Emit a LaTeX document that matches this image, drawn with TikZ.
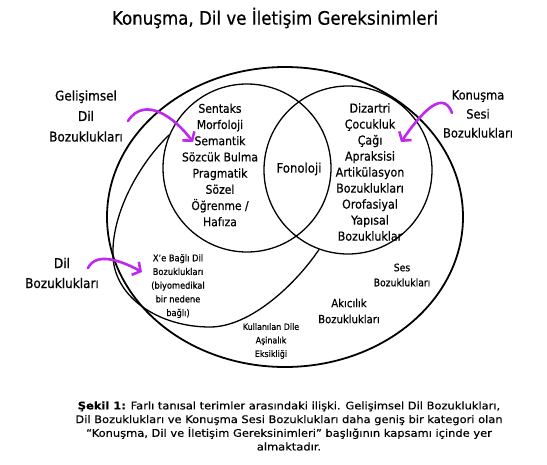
\documentclass[tikz,border=0pt]{standalone}
\usepackage{fontspec}
\setmainfont{DejaVu Sans}[FakeStretch=0.9, FakeBold=0.6]
\newfontfamily\genis{DejaVu Sans}[FakeStretch=1.09, FakeBold=0.4]
\usetikzlibrary{scopes,arrows.meta}
\definecolor{vurgu}{RGB}{190,40,240}
\tikzset{
  daire/.style={circle, draw, line width=1.3pt, minimum size=168pt, inner sep=0pt},
  metin/.style={align=center, font=\fontsize{12}{16.2}\selectfont},
  kucuk/.style={align=center, font=\fontsize{9.2}{13.7}\selectfont},
  yan/.style={align=center, font=\fontsize{13.4}{20.5}\selectfont},
  ok/.style={vurgu, line width=2.6pt, line cap=round, -{Straight Barb[length=6pt,width=15pt]}}
}

\begin{document}
\begin{tikzpicture}[x=1pt,y=-1pt]
  \useasboundingbox (0,0) rectangle (547,464);
  \node[font=\fontsize{18.5}{22}\selectfont] (baslik) at (275,18) {Konuşma, Dil ve İletişim Gereksinimleri};

  \draw[line width=1.8pt] (285,217) ellipse [x radius=178pt, y radius=150pt];
  { [every node/.append style={daire}]
    \node (sol) at (247,168) {};
    \node (sag) at (348,170) {};
  }
  \draw[line width=1.3pt] (sol.157) .. controls (138,165) and (111,215) .. (113,257)
    .. controls (115,297) and (158,327) .. (210,327)
    .. controls (250,327) and (295,285) .. (sag.250);

  \node[metin] (gelisim) at (220,165) {Sentaks\\Morfoloji\\Semantik\\Sözcük Bulma\\Pragmatik\\Sözel\\Öğrenme /\\Hafıza};
  \node[metin, font=\fontsize{13}{16}\selectfont] (fonoloji) at (299,169) {Fonoloji};
  \node[metin, font=\fontsize{12.3}{16}\selectfont] (konusma) at (370,172) {Dizartri\\Çocukluk\\Çağı\\Apraksisi\\Artikülasyon\\Bozuklukları\\Orofasiyal\\Yapısal\\Bozukluklar};
  \node[kucuk] (xbagli) at (178,286) {X’e Bağlı Dil\\Bozuklukları\\(biyomedikal\\bir nedene\\bağlı)};
  \node[kucuk, font=\fontsize{10.3}{15}\selectfont] (ses) at (402,275) {Ses\\Bozuklukları};
  \node[metin, font=\fontsize{11.2}{16}\selectfont] (akicilik) at (349,311) {Akıcılık\\Bozuklukları};
  \node[kucuk, font=\fontsize{8.8}{13.5}\selectfont] (asinalik) at (271,341) {Kullanılan Dile\\Aşinalık\\Eksikliği};

  \node[yan] (gdb) at (86,116) {Gelişimsel\\Dil\\Bozuklukları};
  \node[yan, font=\fontsize{12.7}{19}\selectfont] (ksb) at (478,114) {Konuşma\\Sesi\\Bozuklukları};
  \node[yan, font=\fontsize{13.4}{20}\selectfont] (db) at (62,273) {Dil\\Bozuklukları};

  \coordinate (gdbBas) at (128,121);
  \coordinate (gdbUc) at (193,142);
  \coordinate (ksbBas) at (452,113);
  \coordinate (ksbUc) at (401,142);
  \coordinate (dbBas) at (88,268);
  \coordinate (dbUc) at (142,272);
  \draw[ok] (gdbBas) .. controls (145,95) and (175,118) .. (gdbUc);
  \draw[ok] (ksbBas) .. controls (442,85) and (415,122) .. (ksbUc);
  \draw[ok] (dbBas) .. controls (96,252) and (120,260) .. (dbUc);

  \node[align=center, font=\genis\fontsize{10.5}{13.7}\selectfont] (sekil) at (289,426) {\textbf{Şekil 1:} Farlı tanısal terimler arasındaki ilişki. Gelişimsel Dil Bozuklukları,\\Dil Bozuklukları ve Konuşma Sesi Bozuklukları daha geniş bir kategori olan\\“Konuşma, Dil ve İletişim Gereksinimleri” başlığının kapsamı içinde yer\\almaktadır.};
\end{tikzpicture}
\end{document}
